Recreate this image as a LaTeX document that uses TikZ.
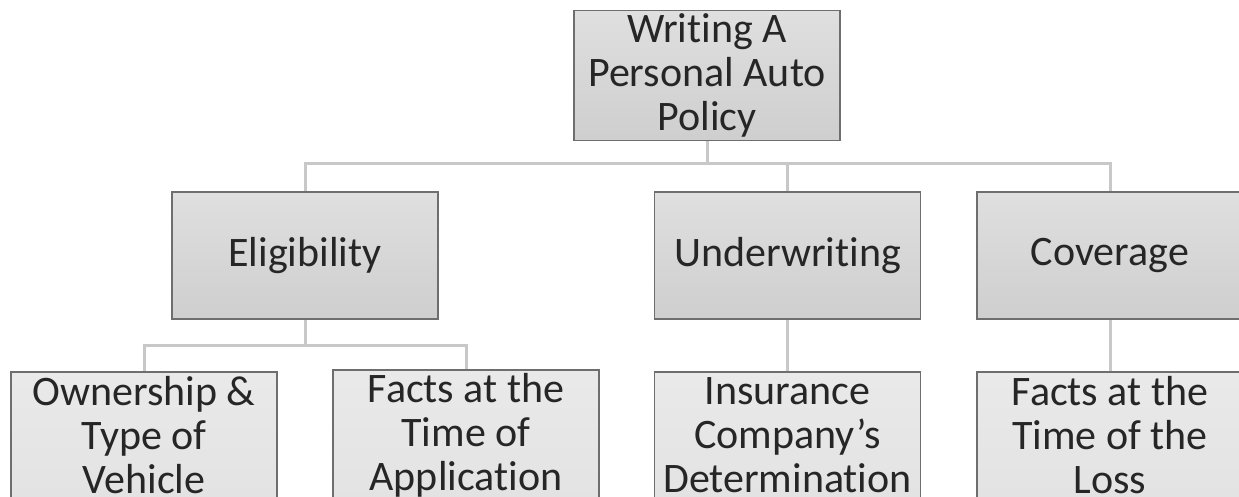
\documentclass[tikz,border=0pt]{standalone}
\usepackage{fontspec}
\setmainfont{Carlito}[Ligatures=NoCommon]
\usepackage{xcolor}
\usetikzlibrary{positioning, arrows.meta}

\definecolor{boxline}{HTML}{6E6E6E}
\definecolor{linkgray}{HTML}{C8C8C8}

\begin{document}
\begin{tikzpicture}[
			x=1pt, y=-1pt,
			box/.style={
				draw=boxline,
				line width=1.5pt,
				rectangle,
				minimum width=266pt,
				minimum height=127pt,
				top color=gray!25,
				bottom color=gray!38,
				align=center,
				text=black!85,
				font=\fontsize{42}{44}\selectfont
			},
			leaf/.style={
				box,
				top color=gray!17,
				bottom color=gray!22
			},
			link/.style={
				draw=linkgray,
				line width=3pt
			}
			]
			
			\useasboundingbox (0,0) rectangle (1239,497);
			\clip (0,0) rectangle (1239,497);
			
			% Top box
			\node[box] (policy) at (707,75.5) {Writing A\\Personal Auto\\Policy};
			
			% Middle boxes
			\node[box] (elig) at (305,255.5) {Eligibility};
			\node[box] (under) at (787.5,255.5) {Underwriting};
			\node[box] (cover) at (1110,255.5) {Coverage};
			
			% Bottom boxes
			\node[leaf] (owner) at (144,435.5) {Ownership \&\\Type of\\Vehicle};
			\node[leaf] (apply) at (466,435.5) {Facts at the\\Time of\\Application};
			\node[leaf] (insurer) at (787.5,435.5) {Insurance\\Company’s\\Determination};
			\node[leaf] (loss) at (1110,435.5) {Facts at the\\Time of the\\Loss};
			
			% Branch points
			\coordinate (hub) at (707,164);
			\coordinate (elighub) at (305,345);
			
			% Connect boxes
			\draw[link] (policy) -- (hub);
			\draw[link] (hub) -| (elig);
			\draw[link] (hub) -| (under);
			\draw[link] (hub) -| (cover);
			\draw[link] (elig) -- (elighub);
			\draw[link] (elighub) -| (owner);
			\draw[link] (elighub) -| (apply);
			\draw[link] (under) -- (insurer);
			\draw[link] (cover) -- (loss);
			
		\end{tikzpicture}
\end{document}
